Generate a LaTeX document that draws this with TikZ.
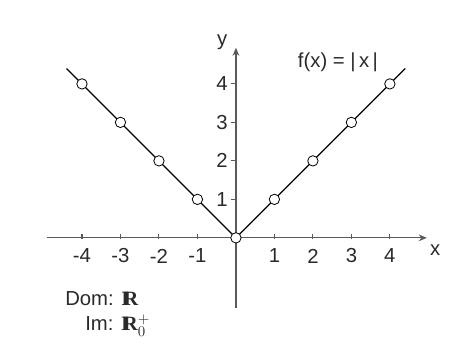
\documentclass[tikz,border=0pt]{standalone}
\usepackage{fontspec}
\setmainfont{Liberation Sans}
\newfontfamily\reals{Liberation Serif}
\usepackage{amsmath}
\usetikzlibrary{arrows.meta}
\definecolor{axgray}{HTML}{5A5A5A}
\definecolor{txtgray}{HTML}{2A2A2A}
\newcommand{\RR}{{\reals\bfseries I\kern-0.28em R}}

\tikzset{
  axisline/.style={draw=axgray, line width=0.9pt, -{Stealth[length=6pt,width=5pt]}},
  tickmark/.style={draw=axgray, line width=0.8pt},
  lbl/.style={font=\fontsize{15}{18}\selectfont, text=txtgray, inner sep=0pt},
  dotpt/.style={circle, draw=black, fill=white, line width=0.6pt, minimum size=0.27cm, inner sep=0pt},
}

\begin{document}
\begin{tikzpicture}
  \useasboundingbox (-6.13,-2.91) rectangle (5.77,6.18);
  % axes
  \coordinate (xl) at (-4.92,0);
  \coordinate (xr) at (4.96,0);
  \coordinate (yb) at (0,-1.81);
  \coordinate (yt) at (0,4.94);
  \draw[axisline] (xl) -- (xr);
  \draw[axisline] (yb) -- (yt);
  \node[lbl] (xlab) at (5.18,-0.31) {x};
  \node[lbl] (ylab) at (-0.36,5.08) {y};
  % ticks
  \foreach \i in {-4,-3,-2,-1,1,2,3,4} {
    \draw[tickmark] (\i,-0.03) -- (\i,0.1);
    \node[lbl] (tx\i) at (\i,-0.47) {\i};
  }
  \foreach \j in {1,2,3,4} {
    \draw[tickmark] (-0.14,\j) -- (0,\j);
    \node[lbl] (ty\j) at (-0.36,\j) {\j};
  }
  % graph
  \coordinate (gl) at (-4.4,4.4);
  \coordinate (gr) at (4.4,4.4);
  \draw[line width=0.9pt] (gl) -- (0,0) -- (gr);
  \foreach \i in {-4,...,4} {
    \node[dotpt] (p\i) at (\i,{abs(\i)}) {};
  }
  \node[lbl] (fx) at (2.65,4.57) {f(x) = |\,x\,|};
  \node[lbl, anchor=base west] (dom) at (-4.44,-1.75) {Dom: \RR};
  \node[lbl, anchor=base west] (im) at (-3.92,-2.42) {Im: \RR$_0^+$};
\end{tikzpicture}
\end{document}
